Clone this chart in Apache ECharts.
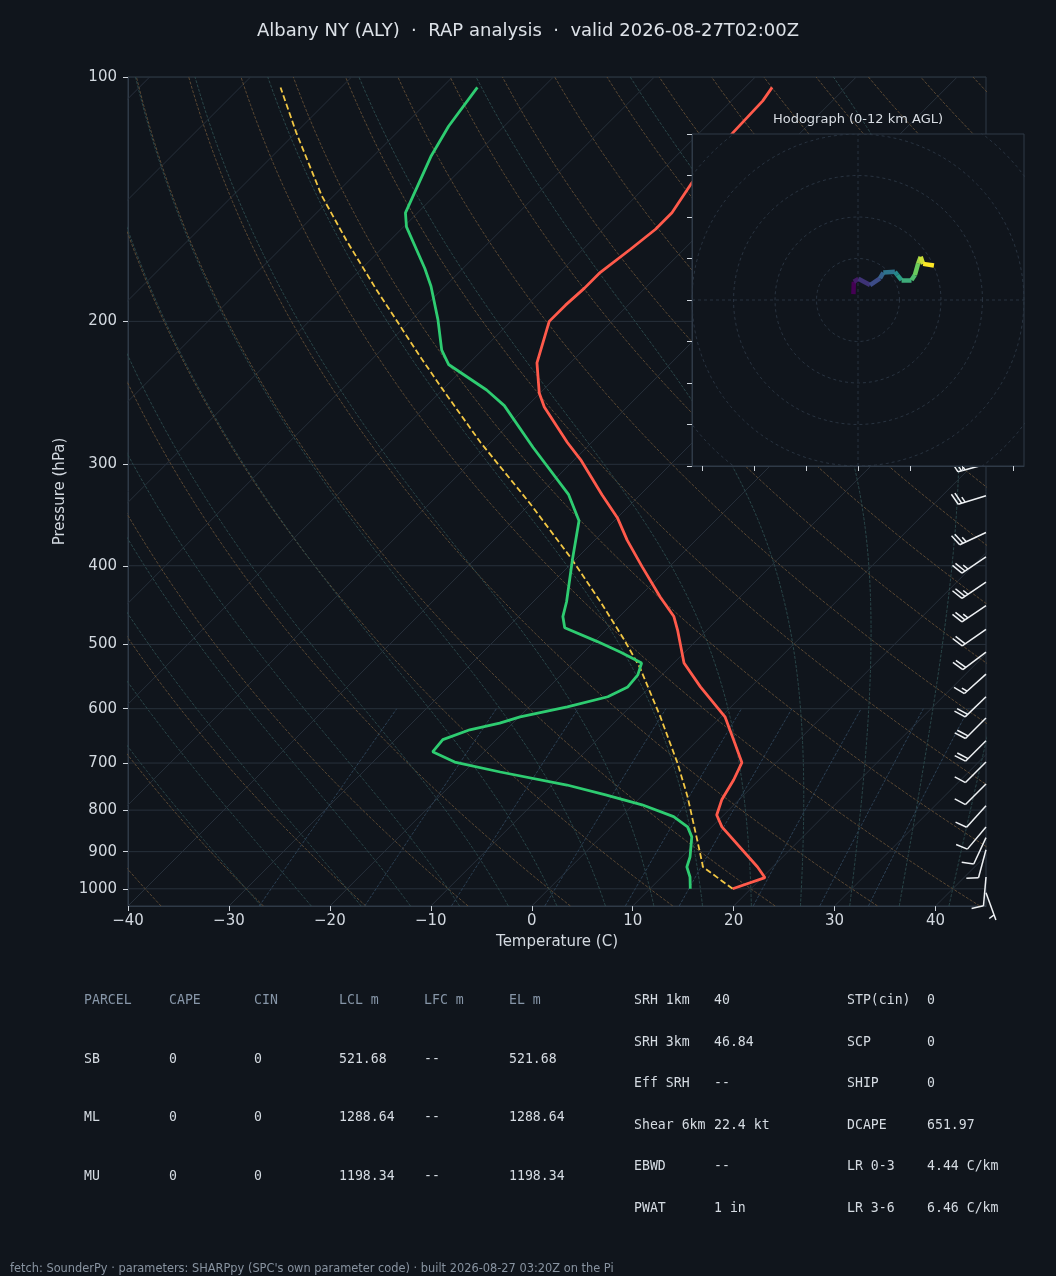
<!DOCTYPE html>
<html>
<head>
<meta charset="utf-8">
<script src="https://cdn.jsdelivr.net/npm/echarts@6/dist/echarts.min.js"></script>
<style>
  html, body { margin: 0; padding: 0; background: #10151c; }
  body { position: relative; width: 1056px; height: 1276px; overflow: hidden; }
  #main { position: absolute; left: 0; top: 0; width: 1056px; height: 1276px; }
  .cell { position: absolute; font-family: 'DejaVu Sans Mono', monospace; font-size: 13.2px; line-height: 18px; white-space: pre; }
  .foot { position: absolute; font-family: 'DejaVu Sans', sans-serif; font-size: 11.4px; line-height: 14px; white-space: pre; color: #8893a0; }
</style>
</head>
<body>
<div id="main"></div>
<div id="params"></div>
<script>
// sounding (pressure hPa, temperature C)
const tempP = [1000, 969, 940, 839, 811, 777, 734, 699, 655, 614, 564, 527, 480, 462, 437, 401, 372, 349, 327, 296, 282, 255, 245, 225, 200, 191, 182, 174, 163, 154, 147, 135, 117, 107, 103];
const tempC = [18.2, 20.3, 18.5, 11.0, 9.3, 8.3, 7.5, 6.6, 3.5, 0.4, -5.0, -9.0, -12.9, -14.6, -17.9, -22.7, -26.8, -30.0, -33.8, -39.4, -42.4, -48.2, -50.1, -53.3, -56.2, -56.2, -56.0, -56.0, -55.3, -54.8, -54.8, -55.8, -56.7, -56.9, -57.3];

const dewP = [1000, 967, 940, 913, 863, 839, 815, 788, 766, 745, 718, 698, 678, 655, 637, 625, 614, 597, 580, 564, 545, 527, 511, 496, 477, 462, 443, 393, 352, 327, 286, 254, 243, 226, 217, 199, 181, 172, 153, 147, 125, 115, 103];
const dewC = [14.0, 12.8, 11.5, 10.8, 9.0, 7.6, 5.2, 0.9, -3.7, -8.5, -16.4, -21.9, -25.1, -25.3, -23.6, -21.3, -19.9, -16.2, -13.2, -12.2, -12.4, -13.2, -16.4, -19.7, -24.3, -25.6, -26.7, -30.3, -33.5, -37.1, -45.3, -52.3, -55.6, -61.9, -64.0, -67.4, -71.4, -73.8, -79.7, -81.2, -84.3, -85.5, -86.5];

const parcelP = [1000, 940, 903, 770, 699, 614, 533, 491, 441, 390, 335, 282, 241, 221, 183, 159, 140, 117, 103];
const parcelC = [18.2, 13.1, 11.4, 4.6, 0.2, -6.0, -13.0, -17.5, -23.6, -30.8, -40.1, -51.0, -60.4, -65.5, -76.4, -84.3, -91.2, -100.0, -106.0];

// wind barbs (hPa, kt, direction from)
const barbP   = [300, 328, 364, 390, 419, 448, 479, 511, 544, 580, 616, 657, 698, 743, 790, 839, 865, 895, 967, 1011];
const barbSpd = [25, 25, 25, 25, 25, 25, 20, 20, 15, 20, 20, 20, 10, 10, 10, 10, 10, 10, 10, 5];
const barbDir = [255, 253, 245, 236, 236, 236, 235, 233, 228, 226, 225, 225, 225, 225, 222, 220, 205, 195, 185, 160];

// hodograph u/v (kt), surface first
const hodoU = [-1.1, -1.0, 0.1, 2.9, 5.3, 6.1, 8.9, 9.5, 10.5, 12.9, 13.7, 14.5, 15.1, 15.7, 18.3];
const hodoV = [1.4, 4.4, 5.1, 3.6, 5.2, 6.6, 6.8, 6.0, 4.8, 4.8, 6.0, 8.8, 10.4, 8.7, 8.3];

const isobarTicks = [100, 200, 300, 400, 500, 600, 700, 800, 900, 1000];
const hodoXTicks = [-37.5, -25, -12.5, 0, 12.5, 25, 37.5];
const hodoRings = [10, 20, 30, 40, 50];

const parcelHeader = ['PARCEL', 'CAPE', 'CIN', 'LCL m', 'LFC m', 'EL m'];
const parcelRows = [
  ['SB', '0', '0', '521.68', '--', '521.68'],
  ['ML', '0', '0', '1288.64', '--', '1288.64'],
  ['MU', '0', '0', '1198.34', '--', '1198.34']
];
const kinLabels = ['SRH 1km', 'SRH 3km', 'Eff SRH', 'Shear 6km', 'EBWD', 'PWAT'];
const kinValues = ['40', '46.84', '--', '22.4 kt', '--', '1 in'];
const compLabels = ['STP(cin)', 'SCP', 'SHIP', 'DCAPE', 'LR 0-3', 'LR 3-6'];
const compValues = ['0', '0', '0', '651.97', '4.44 C/km', '6.46 C/km'];

const titleText = 'Albany NY (ALY)  \u00b7  RAP analysis  \u00b7  valid 2026-08-27T02:00Z';
const footText = "fetch: SounderPy \u00b7 parameters: SHARPpy (SPC's own parameter code) \u00b7 built 2026-08-27 03:20Z on the Pi";

// skew-T: isotherms run at 45 degrees on the page
const P_BOT = 1050, SKEW = 80.44;
const skewX = (t, p) => t + SKEW * Math.log10(P_BOT / p);
const profile = (ps, ts) => ps.map((p, i) => [skewX(ts[i], p), p]);

const logLevels = [];
for (let i = 0; i <= 60; i++) logLevels.push(P_BOT * Math.pow(100 / P_BOT, i / 60));

// reference lines
const isobarLines = isobarTicks.map(p => ({ coords: [[-40, p], [45, p]] }));
const isothermLines = [];
for (let t = -130; t <= 40; t += 10) isothermLines.push({ coords: [[skewX(t, P_BOT), P_BOT], [skewX(t, 100), 100]] });

const dryLines = [];
for (let th = -40; th <= 200; th += 10) {
  dryLines.push({ coords: logLevels.map(p => [skewX((th + 273.15) * Math.pow(p / 1000, 0.2857) - 273.15, p), p]) });
}

function dTdp(p, tk) {
  const tc = tk - 273.15;
  const es = 6.112 * Math.exp(17.67 * tc / (tc + 243.5));
  const rs = 0.622 * es / (p - es);
  return (287.04 * tk + 2.501e6 * rs) / (p * (1005.7 + 2.501e6 * 2.501e6 * rs * 0.622 / (287.04 * tk * tk)));
}
function moistAdiabat(t0) {
  const run = (pEnd, dp) => {
    const out = [];
    let p = 1000, tk = t0 + 273.15;
    while ((dp < 0 && p > pEnd) || (dp > 0 && p < pEnd)) {
      const k1 = dTdp(p, tk);
      const k2 = dTdp(p + dp / 2, tk + k1 * dp / 2);
      tk += k2 * dp; p += dp;
      out.push([skewX(tk - 273.15, p), p]);
    }
    return out;
  };
  return run(1050, 5).reverse().concat([[skewX(t0, 1000), 1000]], run(100, -5));
}
const moistLines = [];
for (let t0 = -30; t0 <= 40; t0 += 5) moistLines.push({ coords: moistAdiabat(t0) });

const mixRatios = [0.0004, 0.001, 0.002, 0.004, 0.007, 0.01, 0.016, 0.024, 0.032];
const mixLines = mixRatios.map(w => {
  const pts = [];
  for (let p = 1050; p >= 600; p -= 10) {
    const l = Math.log(p * w / (0.622 + w) / 6.112);
    pts.push([skewX(243.5 * l / (17.67 - l), p), p]);
  }
  return { coords: pts };
});

// hodograph rings and colour trace
const ringLines = hodoRings.map(r => {
  const pts = [];
  for (let a = 0; a <= 360; a += 4) pts.push([r * Math.cos(a * Math.PI / 180), r * Math.sin(a * Math.PI / 180)]);
  return { coords: pts };
});
const crossLines = [{ coords: [[-40, 0], [40, 0]] }, { coords: [[0, -40], [0, 40]] }];

const viridis = [[68, 1, 84], [59, 82, 139], [33, 145, 140], [94, 201, 98], [253, 231, 37]];
function viridisAt(f) {
  const x = f * (viridis.length - 1), i = Math.min(Math.floor(x), viridis.length - 2), k = x - i;
  const c = viridis[i].map((v, j) => Math.round(v + (viridis[i + 1][j] - v) * k));
  return 'rgb(' + c.join(',') + ')';
}
const hodoSegs = [];
for (let i = 0; i < hodoU.length - 1; i++) {
  hodoSegs.push({
    coords: [[hodoU[i], hodoV[i]], [hodoU[i + 1], hodoV[i + 1]]],
    lineStyle: { color: viridisAt(i / (hodoU.length - 2)) }
  });
}

const AXIS = '#2f3a47', TICK = '#cfd5dc', LABEL = '#d3d9e0', FONT = 'DejaVu Sans';

function renderBarb(params, api) {
  const base = api.coord([api.value(0), api.value(1)]);
  const spd = api.value(2), dir = api.value(3) * Math.PI / 180;
  const L = 29, h = 0.4 * L, w = 0.25 * L, gap = 0.125 * L;
  const sx = Math.sin(dir), sy = -Math.cos(dir);
  const bx = -sy, by = sx;
  const style = { stroke: '#eef1f4', lineWidth: 1.5, fill: null };
  const kids = [{ type: 'line', shape: { x1: base[0], y1: base[1], x2: base[0] + sx * L, y2: base[1] + sy * L }, style }];
  let r = Math.round(spd / 5) * 5;
  const n50 = Math.floor(r / 50); r -= n50 * 50;
  const n10 = Math.floor(r / 10); r -= n10 * 10;
  const half = r >= 5;
  let d = 0;
  const at = dd => [base[0] + sx * (L - dd), base[1] + sy * (L - dd)];
  for (let i = 0; i < n50; i++) {
    const p0 = at(d), p2 = at(d + w);
    kids.push({ type: 'polygon', shape: { points: [p0, [p0[0] + bx * h - sx * w / 2, p0[1] + by * h - sy * w / 2], p2] }, style: { fill: '#eef1f4' } });
    d += w + gap;
  }
  for (let i = 0; i < n10; i++) {
    const p0 = at(d);
    kids.push({ type: 'line', shape: { x1: p0[0], y1: p0[1], x2: p0[0] + bx * h + sx * w / 2, y2: p0[1] + by * h + sy * w / 2 }, style });
    d += gap;
  }
  if (half) {
    if (d === 0) d = 1.5 * gap;
    const p0 = at(d);
    kids.push({ type: 'line', shape: { x1: p0[0], y1: p0[1], x2: p0[0] + bx * h / 2 + sx * w / 4, y2: p0[1] + by * h / 2 + sy * w / 4 }, style });
  }
  return { type: 'group', children: kids };
}

const bgLines = (data, color, type, width) => ({
  type: 'lines', coordinateSystem: 'cartesian2d', xAxisIndex: 0, yAxisIndex: 0,
  polyline: true, silent: true, clip: true, z: 1, data,
  lineStyle: { color, width, type, opacity: 1 }
});

const chart = echarts.init(document.getElementById('main'));
chart.setOption({
  backgroundColor: '#10151c',
  animation: false,
  title: {
    text: titleText, left: 'center', top: 17,
    textStyle: { color: '#dde2e8', fontSize: 18, fontWeight: 'normal', fontFamily: FONT }
  },
  graphic: [{
    type: 'text', x: 858, y: 120, z: 20,
    style: { text: 'Hodograph (0-12 km AGL)', fill: '#d8dde3', font: '13px "DejaVu Sans"', align: 'center', verticalAlign: 'middle' }
  }],
  grid: [
    { left: 128, right: 70, top: 77, bottom: 370, show: true, borderColor: AXIS, borderWidth: 1, backgroundColor: 'transparent' },
    { left: 692, top: 134, width: 332, height: 332, show: true, borderColor: AXIS, borderWidth: 1, backgroundColor: '#10151c', z: 5 }
  ],
  xAxis: [
    {
      type: 'value', gridIndex: 0, min: -40, max: 45, interval: 10,
      axisLine: { show: true, onZero: false, lineStyle: { color: AXIS } },
      axisTick: { show: true, length: 5, lineStyle: { color: TICK } },
      axisLabel: { color: LABEL, fontSize: 15, fontFamily: FONT, margin: 8, showMaxLabel: false,
        formatter: v => String(v).replace('-', '\u2212') },
      splitLine: { show: false },
      name: 'Temperature (C)', nameLocation: 'middle', nameGap: 29,
      nameTextStyle: { color: LABEL, fontSize: 15, fontFamily: FONT }
    },
    {
      type: 'value', gridIndex: 1, min: -40, max: 40, z: 6,
      axisLine: { show: true, onZero: false, lineStyle: { color: AXIS } },
      axisTick: { show: true, length: 5, customValues: hodoXTicks, lineStyle: { color: TICK } },
      axisLabel: { show: false },
      splitLine: { show: false }
    }
  ],
  yAxis: [
    {
      type: 'log', gridIndex: 0, logBase: 10, min: 100, max: 1050, inverse: true,
      axisLine: { show: true, onZero: false, lineStyle: { color: AXIS } },
      axisTick: { show: true, length: 5, customValues: isobarTicks, lineStyle: { color: TICK } },
      axisLabel: { color: LABEL, fontSize: 15, fontFamily: FONT, margin: 11, customValues: isobarTicks,
        formatter: v => String(Math.round(v)) },
      splitLine: { show: false }, minorTick: { show: false },
      name: 'Pressure (hPa)', nameLocation: 'middle', nameGap: 53, nameRotate: 90,
      nameTextStyle: { color: LABEL, fontSize: 15, fontFamily: FONT }
    },
    {
      type: 'value', gridIndex: 1, min: -40, max: 40, interval: 10, z: 6,
      axisLine: { show: true, onZero: false, lineStyle: { color: AXIS } },
      axisTick: { show: true, length: 5, lineStyle: { color: TICK } },
      axisLabel: { show: false },
      splitLine: { show: false }
    }
  ],
  series: [
    bgLines(isobarLines, '#27303b', 'solid', 1),
    bgLines(isothermLines, '#27303b', 'solid', 1),
    bgLines(dryLines, '#5a4833', [3, 1.5], 1),
    bgLines(moistLines, '#2a4649', [3, 1.5], 1),
    bgLines(mixLines, '#2c4054', [3, 1.5], 1),
    {
      type: 'line', xAxisIndex: 0, yAxisIndex: 0, z: 3, symbol: 'none', silent: true,
      data: profile(parcelP, parcelC),
      lineStyle: { color: '#f2c744', width: 1.8, type: [6, 3] }
    },
    {
      type: 'line', xAxisIndex: 0, yAxisIndex: 0, z: 3, symbol: 'none', silent: true,
      data: profile(dewP, dewC),
      lineStyle: { color: '#2ecc71', width: 2.8 }
    },
    {
      type: 'line', xAxisIndex: 0, yAxisIndex: 0, z: 3, symbol: 'none', silent: true,
      data: profile(tempP, tempC),
      lineStyle: { color: '#ff5a4b', width: 2.8 }
    },
    {
      type: 'custom', xAxisIndex: 0, yAxisIndex: 0, z: 4, silent: true, clip: false,
      data: barbP.map((p, i) => [45, p, barbSpd[i], barbDir[i]]),
      encode: { x: 0, y: 1 },
      renderItem: renderBarb
    },
    {
      type: 'lines', coordinateSystem: 'cartesian2d', xAxisIndex: 1, yAxisIndex: 1,
      polyline: true, silent: true, clip: true, z: 7,
      data: ringLines.concat(crossLines),
      lineStyle: { color: '#2b3744', width: 0.9, type: [3, 3], opacity: 1 }
    },
    {
      type: 'lines', coordinateSystem: 'cartesian2d', xAxisIndex: 1, yAxisIndex: 1,
      silent: true, clip: true, z: 8,
      data: hodoSegs,
      lineStyle: { width: 4.5, opacity: 1 }
    }
  ]
});

// parameter table under the chart
const box = document.getElementById('params');
function put(text, left, cy, color, cls) {
  const d = document.createElement('div');
  d.className = cls || 'cell';
  d.textContent = text;
  d.style.left = left + 'px';
  d.style.top = (cy - 9) + 'px';
  d.style.color = color;
  box.appendChild(d);
}
parcelHeader.forEach((h, c) => put(h, 84 + 85 * c, 1000, '#8796a8'));
parcelRows.forEach((row, r) => row.forEach((v, c) => put(v, 84 + 85 * c, 1058.7 + 58.7 * r, '#d5dbe2')));
kinLabels.forEach((l, r) => {
  const cy = 1000 + 41.6 * r;
  put(l, 634, cy, '#d5dbe2');
  put(kinValues[r], 714, cy, '#d5dbe2');
  put(compLabels[r], 847, cy, '#d5dbe2');
  put(compValues[r], 927, cy, '#d5dbe2');
});
put(footText, 10, 1270, '#8893a0', 'foot');
</script>
</body>
</html>
